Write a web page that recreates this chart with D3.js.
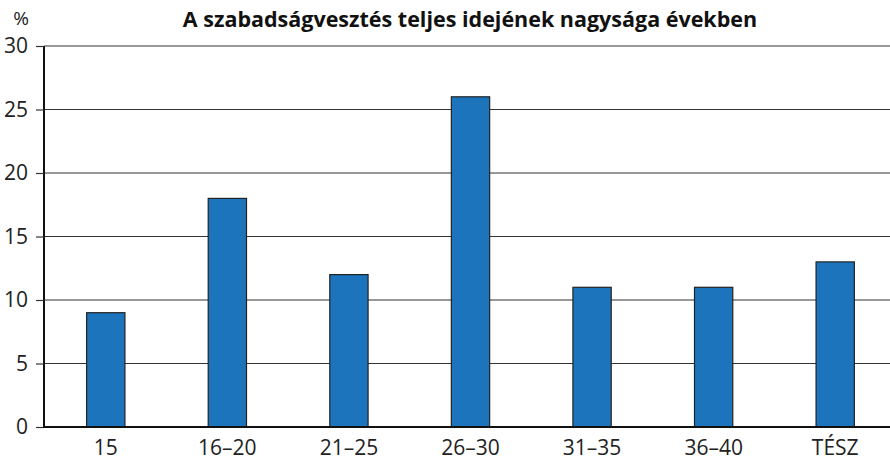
<!DOCTYPE html>
<html><head><meta charset="utf-8">
<script src="https://cdn.jsdelivr.net/npm/d3@7"></script>
<style>body{margin:0;background:#fff}svg{display:block}text{font-family:"Open Sans",sans-serif}</style>
</head><body><svg id="c" width="890" height="460"></svg>
<script>
const categories = ["15","16–20","21–25","26–30","31–35","36–40","TÉSZ"];
const values = [9,18,12,26,11,11,13];
const yTicks = [0,5,10,15,20,25,30];
const title = "A szabadságvesztés teljes idejének nagysága években";
const unit = "%";

const svg = d3.select("#c");
const x = d3.scaleBand().domain(categories).range([45,896]).paddingInner(0.685).paddingOuter(0.3425);
const y = d3.scaleLinear().domain([0,30]).range([427,46]);

// gridlines
svg.append("g").selectAll("line").data(yTicks.filter(d=>d>0)).join("line")
  .attr("x1",44).attr("x2",890).attr("y1",d=>y(d)).attr("y2",d=>y(d))
  .attr("stroke","#333").attr("stroke-width",1.2);

// y axis
const ya = svg.append("g").attr("transform","translate(44,0)")
  .call(d3.axisLeft(y).tickValues(yTicks).tickSize(8).tickPadding(8));
ya.select(".domain").attr("stroke","#111").attr("stroke-width",2).attr("d","M0,46V427");
ya.selectAll(".tick line").attr("stroke","#333").attr("stroke-width",1.2);
ya.selectAll("text").attr("font-size",21).attr("fill","#222");

// bars
svg.append("g").selectAll("rect").data(values).join("rect")
  .attr("x",(d,i)=>x(categories[i])).attr("width",x.bandwidth())
  .attr("y",d=>y(d)).attr("height",d=>y(0)-y(d))
  .attr("fill","#1c74bc").attr("stroke","#222").attr("stroke-width",1.2);

// x axis
const xa = svg.append("g").attr("transform","translate(0,427)")
  .call(d3.axisBottom(x).tickSize(0).tickPadding(13));
xa.select(".domain").remove();
xa.selectAll("text").attr("font-size",21).attr("fill","#222");
svg.append("line").attr("x1",43).attr("x2",890).attr("y1",y(0)).attr("y2",y(0))
  .attr("stroke","#111").attr("stroke-width",2);

svg.append("text").attr("x",21).attr("y",25).attr("text-anchor","middle")
  .attr("font-size",19).attr("fill","#222").text(unit);
svg.append("text").attr("x",470).attr("y",27).attr("text-anchor","middle")
  .attr("font-size",21.5).attr("font-weight","bold").attr("fill","#111").text(title);
</script></body></html>
